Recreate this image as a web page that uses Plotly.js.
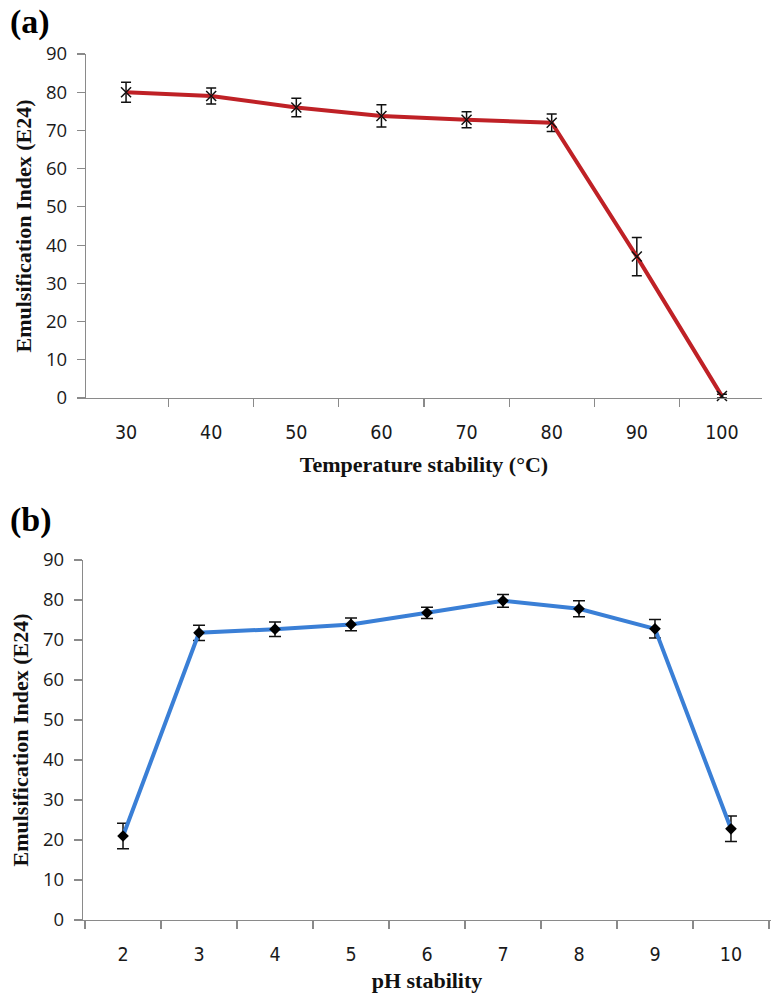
<!DOCTYPE html>
<html>
<head>
<meta charset="utf-8">
<script src="https://cdn.plot.ly/plotly-3.0.1.min.js"></script>
<style>html,body{margin:0;padding:0;background:#fff;}#chart{width:774px;height:1002px;}</style>
</head>
<body>
<div id="chart"></div>
<script>
// Panel (a): temperature stability
const tempLabels = ["30", "40", "50", "60", "70", "80", "90", "100"];
const tempE24 = [80, 79, 76, 73.8, 72.8, 72, 37, 0.5];
const tempErr = [2.6, 2.1, 2.4, 2.9, 2.1, 2.3, 5, 0.5];

// Panel (b): pH stability
const phLabels = ["2", "3", "4", "5", "6", "7", "8", "9", "10"];
const phE24 = [21, 71.8, 72.7, 73.9, 76.8, 79.8, 77.8, 72.8, 22.8];
const phErr = [3.2, 1.9, 1.8, 1.6, 1.4, 1.6, 2, 2.3, 3.2];

const yTicks = [0, 10, 20, 30, 40, 50, 60, 70, 80, 90];

const H = 1002, W = 774;
const tickFontY = {family: "'Open Sans', 'DejaVu Sans', sans-serif", size: 18.5, color: "#1a1a1a"};
const tickFontX = {family: "'DejaVu Sans Condensed', 'Open Sans', sans-serif", size: 19.5, color: "#1a1a1a"};
const titleFont = {family: "'Liberation Serif', 'Times New Roman', serif", size: 22, color: "#111", weight: "bold"};

const traces = [
  {
    x: tempLabels, y: tempE24, xaxis: "x", yaxis: "y",
    type: "scatter", mode: "lines+markers",
    line: {color: "#bf2126", width: 4},
    marker: {symbol: "x-thin", size: 10, color: "#111", line: {color: "#111", width: 1.5}},
    error_y: {type: "data", array: tempErr, visible: true, color: "#111", thickness: 1.5, width: 5},
    cliponaxis: false, showlegend: false
  },
  {
    x: phLabels, y: phE24, xaxis: "x2", yaxis: "y2",
    type: "scatter", mode: "lines+markers",
    line: {color: "#3a7fd6", width: 4},
    marker: {symbol: "diamond", size: 9, color: "#000"},
    error_y: {type: "data", array: phErr, visible: true, color: "#111", thickness: 1.5, width: 6},
    cliponaxis: false, showlegend: false
  }
];

function xAxis(domain, anchor, title, standoff) {
  return {
    domain: domain, anchor: anchor, type: "category", tickson: "boundaries",
    showline: true, linecolor: "#8a8a8a", linewidth: 1.2,
    ticks: "outside", ticklen: 8, tickcolor: "#8a8a8a", tickwidth: 1.2,
    showgrid: false, zeroline: false, tickfont: tickFontX, ticklabelstandoff: 16,
    automargin: false, fixedrange: true,
    title: {text: title, font: titleFont, standoff: standoff}
  };
}
function yAxis(domain, anchor) {
  return {
    domain: domain, anchor: anchor, range: [0, 90], tickvals: yTicks,
    showline: true, linecolor: "#8a8a8a", linewidth: 1.2,
    ticks: "outside", ticklen: 8, tickcolor: "#8a8a8a", tickwidth: 1.2,
    showgrid: false, zeroline: false, tickfont: tickFontY, ticklabelstandoff: 6,
    automargin: false, fixedrange: true,
    title: {text: "Emulsification Index (E24)", font: titleFont, standoff: 8}
  };
}

const layout = {
  width: W, height: H,
  margin: {l: 0, r: 0, t: 0, b: 0},
  paper_bgcolor: "#fff", plot_bgcolor: "#fff",
  showlegend: false,
  xaxis: xAxis([86 / W, 762 / W], "y", "Temperature stability (°C)", 14),
  yaxis: yAxis([(H - 398) / H, (H - 54) / H], "x"),
  xaxis2: xAxis([83 / W, 771 / W], "y2", "pH stability", 8),
  yaxis2: yAxis([(H - 920) / H, (H - 560) / H], "x2"),
  annotations: [
    {text: "(a)", x: 8 / W, y: 1 - 1 / H, xref: "paper", yref: "paper", xanchor: "left", yanchor: "top", showarrow: false,
     font: {family: "'Liberation Serif', 'Times New Roman', serif", size: 34, color: "#000", weight: "bold"}},
    {text: "(b)", x: 8 / W, y: 1 - 499 / H, xref: "paper", yref: "paper", xanchor: "left", yanchor: "top", showarrow: false,
     font: {family: "'Liberation Serif', 'Times New Roman', serif", size: 34, color: "#000", weight: "bold"}}
  ]
};

Plotly.newPlot("chart", traces, layout, {displayModeBar: false, staticPlot: true});
</script>
</body>
</html>
